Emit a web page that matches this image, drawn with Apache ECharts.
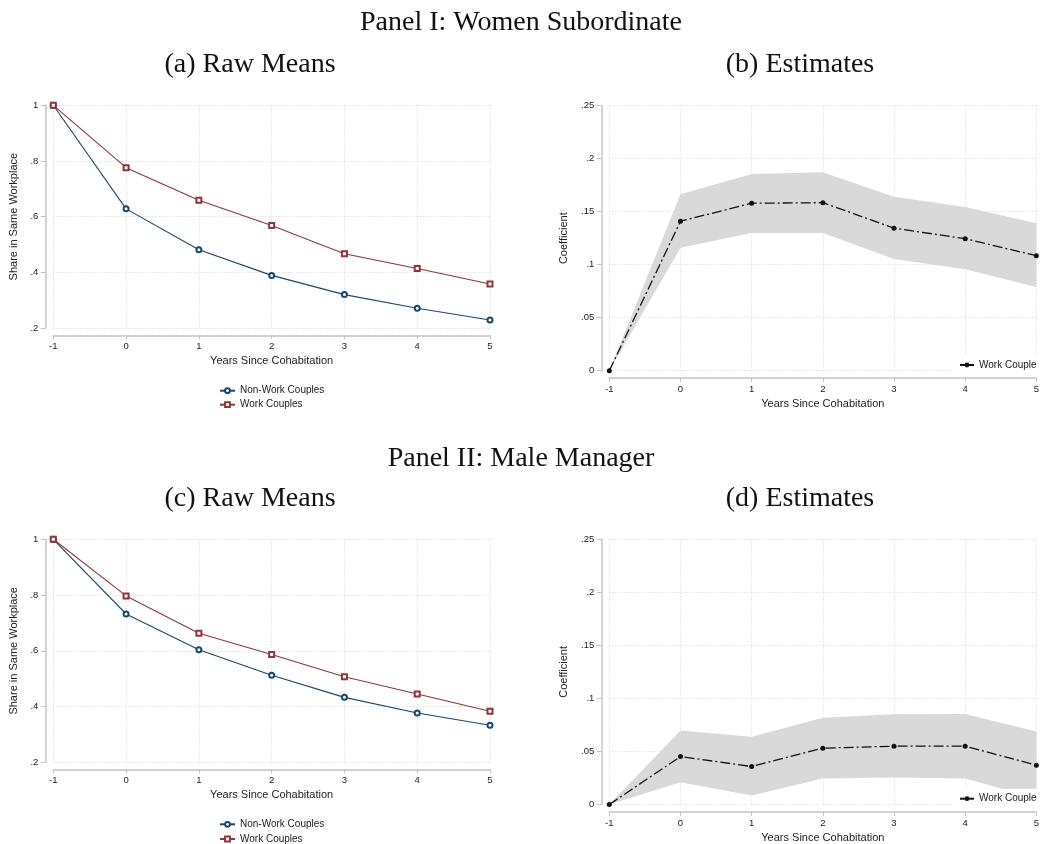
<!DOCTYPE html>
<html>
<head>
<meta charset="utf-8">
<title>Work couples</title>
<script src="https://cdn.jsdelivr.net/npm/echarts@6/dist/echarts.min.js"></script>
<style>
  html, body { margin: 0; padding: 0; background: #fff; }
  #main { width: 1042px; height: 844px; }
</style>
</head>
<body>
<div id="main"></div>
<script>
// years since cohabitation
var years = [-1, 0, 1, 2, 3, 4, 5];

// Panel I (a): raw means
var aNonWork = [1, 0.628, 0.481, 0.389, 0.320, 0.271, 0.229];
var aWork = [1, 0.776, 0.659, 0.568, 0.467, 0.414, 0.358];
// Panel I (b): estimates + CI
var bCoef = [0, 0.141, 0.158, 0.1585, 0.1345, 0.1245, 0.1085];
var bUpper = [0, 0.1664, 0.1855, 0.1871, 0.1642, 0.1544, 0.139];
var bLower = [0, 0.116, 0.130, 0.130, 0.1053, 0.0956, 0.0789];

// Panel II (c): raw means
var cNonWork = [1, 0.732, 0.604, 0.512, 0.433, 0.377, 0.333];
var cWork = [1, 0.797, 0.663, 0.587, 0.507, 0.445, 0.383];
// Panel II (d): estimates + CI
var dCoef = [0, 0.0452, 0.0358, 0.0531, 0.055, 0.055, 0.0371];
var dUpper = [0, 0.0697, 0.0638, 0.0817, 0.0851, 0.0854, 0.0688];
var dLower = [0, 0.021, 0.0085, 0.0245, 0.0254, 0.0245, 0.006];

// tick labels
var meanTicks = [0.2, 0.4, 0.6, 0.8, 1];
var coefTicks = [0, 0.05, 0.1, 0.15, 0.2, 0.25];

var BLUE = '#1a476f', RED = '#90353b';
var SANS = '"Liberation Sans", Arial, sans-serif';
var SERIF = '"Liberation Serif", "Times New Roman", serif';

function pairs(ys) { return years.map(function (x, i) { return [x, ys[i]]; }); }
function fmt(v) {
    var s = String(Math.round(v * 1000) / 1000);
    return s.replace(/^0\./, '.');
}

var grids = [
    { left: 53.3, top: 105.3, width: 436.7, height: 222.7 },
    { left: 609.3, top: 105.7, width: 431, height: 265 },
    { left: 53.3, top: 539.3, width: 436.7, height: 223 },
    { left: 609.3, top: 539.3, width: 431, height: 265.4 }
];
var xOffsets = [7.3, 7.3, 7, 7.5];

function xAxis(i) {
    return {
        type: 'value', gridIndex: i, min: years[0], max: years[years.length - 1], interval: 1,
        offset: xOffsets[i],
        name: 'Years Since Cohabitation', nameLocation: 'middle', nameGap: 20,
        nameTextStyle: { fontFamily: SANS, fontSize: 11, color: '#222' },
        axisLine: { show: true, onZero: false, lineStyle: { color: '#c4c4c4', width: 1.5 } },
        axisTick: { show: true, length: 4, lineStyle: { color: '#c4c4c4', width: 1 } },
        axisLabel: { margin: 6, fontFamily: SANS, fontSize: 9.5, color: '#222', formatter: fmt },
        splitLine: { show: true, lineStyle: { color: '#d6d6d6', type: [1, 2], width: 1 } }
    };
}
function yAxis(i, ticks, name, gap) {
    return {
        type: 'value', gridIndex: i, min: ticks[0], max: ticks[ticks.length - 1],
        interval: ticks[1] - ticks[0], offset: 8,
        name: name, nameLocation: 'middle', nameGap: gap,
        nameTextStyle: { fontFamily: SANS, fontSize: 11, color: '#222' },
        axisLine: { show: true, onZero: false, lineStyle: { color: '#c4c4c4', width: 1.5 } },
        axisTick: { show: true, length: 4.5, lineStyle: { color: '#c4c4c4', width: 1 } },
        axisLabel: { margin: 7, fontFamily: SANS, fontSize: 9.5, color: '#222', formatter: fmt },
        splitLine: { show: true, lineStyle: { color: '#d6d6d6', type: [1, 2], width: 1 } }
    };
}

function meanSeries(i, name, ys, color, symbol) {
    return {
        name: name, type: 'line', xAxisIndex: i, yAxisIndex: i, data: pairs(ys),
        symbol: symbol, symbolSize: 5, showSymbol: true,
        lineStyle: { color: color, width: 1.1 },
        itemStyle: { color: color, borderColor: color, borderWidth: 1 },
        z: 3
    };
}
// confidence band as one polygon, mapped through the axes with api.coord
function bandSeries(i, lo, hi) {
    var rows = years.map(function (x, k) { return [x, lo[k], hi[k]]; });
    return {
        name: 'ci' + i, type: 'custom', xAxisIndex: i, yAxisIndex: i, data: rows,
        encode: { x: 0, y: [1, 2] }, silent: true, z: 1,
        renderItem: function (params, api) {
            if (params.dataIndex !== 0) return null;
            var pts = [], k;
            for (k = 0; k < rows.length; k++) pts.push(api.coord([rows[k][0], rows[k][2]]));
            for (k = rows.length - 1; k >= 0; k--) pts.push(api.coord([rows[k][0], rows[k][1]]));
            return { type: 'polygon', shape: { points: pts }, style: { fill: '#d9d9d9' } };
        }
    };
}
function coefSeries(i, ys) {
    return {
        name: 'Work Couple', type: 'line', xAxisIndex: i, yAxisIndex: i, data: pairs(ys),
        symbol: 'circle', symbolSize: 5,
        lineStyle: { color: '#111', width: 1.3, type: [10, 3, 2, 3] },
        itemStyle: { color: '#111' },
        z: 3
    };
}

// one legend per row so the lower one is not pushed into a second column
function meansLegend(name, top) {
    return {
        left: 219, top: top, padding: 0,
        itemWidth: 15, itemHeight: 6,
        data: [name],
        textStyle: { fontFamily: SANS, fontSize: 10, lineHeight: 10, color: '#222' },
        selectedMode: false
    };
}
function coefLegend(top) {
    return {
        left: 952, top: top, padding: [5, 7, 5, 7], itemWidth: 14, itemHeight: 6,
        backgroundColor: '#fff',
        data: [{ name: 'Work Couple', lineStyle: { type: 'solid' } }],
        textStyle: { fontFamily: SANS, fontSize: 10, lineHeight: 10, color: '#222' },
        selectedMode: false
    };
}

function heading(text, x, y) {
    return {
        type: 'text', x: x, y: y, silent: true,
        style: { text: text, font: '28px ' + SERIF, fill: '#111', textAlign: 'center', textVerticalAlign: 'middle' }
    };
}

var chart = echarts.init(document.getElementById('main'));
chart.setOption({
    animation: false,
    backgroundColor: '#fff',
    graphic: [
        heading('Panel I: Women Subordinate', 521, 23),
        heading('(a) Raw Means', 250, 65),
        heading('(b) Estimates', 800, 65),
        heading('Panel II: Male Manager', 521, 459),
        heading('(c) Raw Means', 250, 499),
        heading('(d) Estimates', 800, 499)
    ],
    grid: grids,
    xAxis: [xAxis(0), xAxis(1), xAxis(2), xAxis(3)],
    yAxis: [
        yAxis(0, meanTicks, 'Share in Same Workplace', 26),
        yAxis(1, coefTicks, 'Coefficient', 32),
        yAxis(2, meanTicks, 'Share in Same Workplace', 26),
        yAxis(3, coefTicks, 'Coefficient', 32)
    ],
    legend: [
        meansLegend('Non-Work Couples', 385.7), meansLegend('Work Couples', 399.7),
        coefLegend(355),
        meansLegend('Non-Work Couples', 819.3), meansLegend('Work Couples', 834),
        coefLegend(788.7)
    ],
    series: [
        meanSeries(0, 'Non-Work Couples', aNonWork, BLUE, 'emptyCircle'),
        meanSeries(0, 'Work Couples', aWork, RED, 'emptyRect'),
        bandSeries(1, bLower, bUpper),
        coefSeries(1, bCoef),
        meanSeries(2, 'Non-Work Couples', cNonWork, BLUE, 'emptyCircle'),
        meanSeries(2, 'Work Couples', cWork, RED, 'emptyRect'),
        bandSeries(3, dLower, dUpper),
        coefSeries(3, dCoef)
    ]
});
</script>
</body>
</html>
